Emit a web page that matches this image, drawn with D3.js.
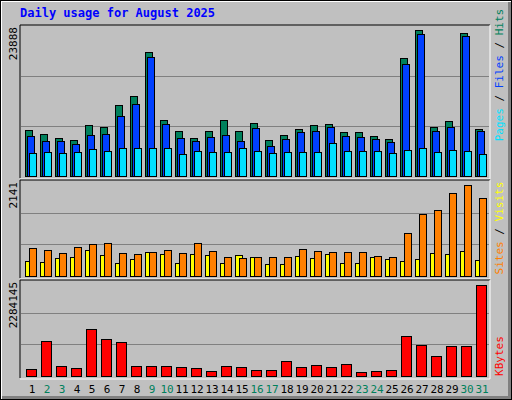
<!DOCTYPE html>
<meta charset="utf-8">
<script src="https://d3js.org/d3.v7.min.js"></script>
<style>
body { margin: 0; }
text { font-family: "DejaVu Sans Mono", monospace; }
</style>
<div id="chart"></div>
<script>
const days = d3.range(1, 32)
const weekends = [2, 3, 9, 10, 16, 17, 23, 24, 30, 31]
const hits = [7313, 6681, 6050, 5734, 8101, 7785, 11257, 12678, 19780, 8890, 7154, 6050, 7154, 8890, 7154, 8417,
	5734, 6523, 7470, 8101, 8259, 6997, 6997, 6365, 5892, 18833, 23251, 7785, 8732, 22778, 7470]
const files = [6365, 5576, 5576, 5102, 6523, 6680, 9521, 11414, 18989, 8258, 6049, 5576, 6207, 6523, 5576, 7627,
	4787, 5891, 6996, 7154, 7785, 6365, 6207, 5891, 5418, 17884, 22618, 7154, 7785, 22302, 7154]
const pages = [3682, 3840, 3682, 3840, 4313, 3998, 4471, 4471, 4471, 4471, 3524, 3998, 3840, 3840, 4471, 3998,
	3682, 3840, 3840, 3840, 5260, 3998, 3998, 3998, 3682, 4155, 4471, 3840, 4155, 3998, 3524]
const visits = [627, 583, 517, 649, 716, 738, 517, 494, 539, 583, 517, 738, 561, 428, 406, 428,
	428, 428, 605, 561, 539, 539, 539, 450, 428, 959, 1402, 1491, 1867, 2044, 1756]
const sites = [339, 317, 406, 428, 583, 472, 295, 384, 539, 494, 295, 494, 472, 295, 472, 428,
	273, 273, 450, 406, 494, 295, 295, 428, 384, 339, 384, 517, 494, 561, 362]
const kbytes = [175692, 846000, 248000, 200000, 1134000, 894000, 823000, 248000, 248000, 248000, 224000, 200000, 128000, 248000, 224000, 152000,
	152000, 367000, 224000, 272000, 224000, 295000, 104000, 128000, 152000, 966000, 751000, 487000, 727000, 727000, 2188000]
const maxHits = 23888, maxVisits = 2141, maxKB = 2284145

const W = 512, H = 400
const svg = d3.select('#chart').append('svg').attr('width', W).attr('height', H)

// frame
svg.append('rect').attr('x', 0).attr('y', 0).attr('width', W).attr('height', H).attr('fill', '#000')
svg.append('rect').attr('x', 1).attr('y', 1).attr('width', W - 2).attr('height', H - 2).attr('fill', '#fff')
svg.append('rect').attr('x', 2).attr('y', 2).attr('width', W - 3).attr('height', H - 3).attr('fill', '#808080')
svg.append('rect').attr('x', 2).attr('y', 2).attr('width', W - 6).attr('height', H - 6).attr('fill', '#c0c0c0')

svg.append('text').attr('x', 20).attr('y', 17).attr('fill', '#0000ff')
	.attr('font-size', 12).attr('font-weight', 'bold').text('Daily usage for August 2025')

const x = d3.scaleLinear().domain([1, 32]).range([25, 490])

function panel(y0, y1, max, label) {
	svg.append('rect').attr('x', 20).attr('y', y0).attr('width', 470).attr('height', y1 - y0)
		.attr('fill', '#c0c0c0')
	svg.append('path').attr('d', `M20,${y1}V${y0}H490`).attr('stroke', '#000').attr('fill', 'none')
	svg.append('path').attr('d', `M20,${y1 + 1}H490V${y0}`).attr('stroke', '#fff').attr('fill', 'none')
	const y = d3.scaleLinear().domain([0, max]).range([y1 - 2, y0 + 1])
	;[1 / 3, 2 / 3].forEach(f => svg.append('line').attr('x1', 21).attr('x2', 489)
		.attr('y1', Math.round(y(max * f)) + 0.5).attr('y2', Math.round(y(max * f)) + 0.5)
		.attr('stroke', '#808080'))
	svg.append('text').attr('transform', `translate(17,${y0 + 2}) rotate(-90)`)
		.attr('text-anchor', 'end').attr('font-size', 11).attr('fill', '#000').text(label)
	return y
}

function bars(y, data, off, w, color) {
	svg.append('g').selectAll('rect').data(data).join('rect')
		.attr('x', (d, i) => x(days[i]) + off + 0.5)
		.attr('y', d => Math.round(y(d)) + 0.5)
		.attr('width', w)
		.attr('height', d => Math.max(0, Math.round(y(0)) - Math.round(y(d))))
		.attr('fill', color).attr('stroke', '#000')
}

const y1 = panel(25, 178, maxHits, maxHits)
bars(y1, hits, 0, 7, '#00805c')
bars(y1, files, 2, 7, '#0040ff')
bars(y1, pages, 4, 7, '#00e0ff')

const y2 = panel(180, 278, maxVisits, maxVisits)
bars(y2, sites, 0, 7, '#ffff00')
bars(y2, visits, 4, 7, '#ff8000')

const y3 = panel(280, 378, maxKB, maxKB)
bars(y3, kbytes, 1, 10, '#ff0000')

svg.append('g').selectAll('text').data(days).join('text')
	.attr('x', d => x(d) + 7).attr('y', 393).attr('text-anchor', 'middle')
	.attr('font-size', 11)
	.attr('fill', d => weekends.includes(d) ? '#00805c' : '#000').text(d => d)

function sideLabel(yc, parts) {
	const t = svg.append('text').attr('transform', `translate(503,${yc}) rotate(-90)`)
		.attr('text-anchor', 'middle').attr('font-size', 11)
	parts.forEach(p => t.append('tspan').attr('fill', p[1]).text(p[0]))
}
sideLabel(75, [['Pages', '#00e0ff'], [' / ', '#000'], ['Files', '#0040ff'], [' / ', '#000'], ['Hits', '#00805c']])
sideLabel(228, [['Sites', '#ff8000'], [' / ', '#000'], ['Visits', '#ffff00']])
sideLabel(356, [['KBytes', '#ff0000']])
</script>
